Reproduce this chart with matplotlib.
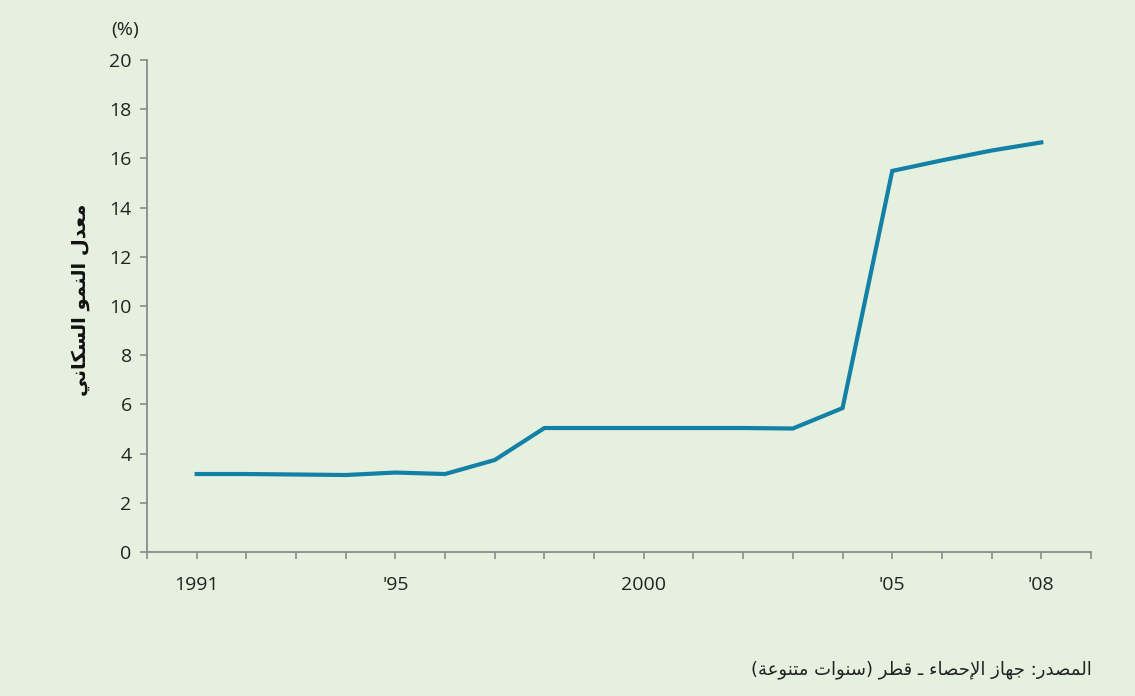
import matplotlib
matplotlib.use('Agg')
import matplotlib.pyplot as plt

# Population growth rate (%), 1991-2008
years = [1991, 1992, 1993, 1994, 1995, 1996, 1997, 1998, 1999,
         2000, 2001, 2002, 2003, 2004, 2005, 2006, 2007, 2008]
growth = [3.17, 3.17, 3.15, 3.13, 3.23, 3.17, 3.74, 5.04, 5.04,
          5.04, 5.04, 5.04, 5.02, 5.85, 15.49, 15.92, 16.32, 16.65]

tick_years = [1991, 1995, 2000, 2005, 2008]
tick_labels = ['1991', "'95", '2000', "'05", "'08"]

# Arabic text, written in presentation forms (logical order), reversed for display
YLABEL_AR = ('\uFEE3\uFECC\uFEAA\uFEDD' + ' ' +
             '\uFE8D\uFEDF\uFEE8\uFEE4\uFEEE' + ' ' +
             '\uFE8D\uFEDF\uFEB4\uFEDC\uFE8E\uFEE7\uFEF2')
SOURCE_AR = ('\uFE8D\uFEDF\uFEE4\uFEBC\uFEAA\uFEAD:' + ' ' +
             '\uFE9F\uFEEC\uFE8E\uFEAF' + ' ' +
             '\uFE8D\uFEF9\uFEA3\uFEBC\uFE8E\uFE80' + ' \u0640 ' +
             '\uFED7\uFEC4\uFEAE' + ' (' +
             '\uFEB3\uFEE8\uFEEE\uFE8D\uFE95' + ' ' +
             '\uFEE3\uFE98\uFEE8\uFEEE\uFECB\uFE94' + ')')


def visual(s):
    s = s[::-1]
    return s.translate(str.maketrans('()', ')('))


BG = '#e5f0df'
LINE = '#1380a5'
AXIS = '#8a8a8a'
TEXT = '#222222'
FONT = ['Open Sans', 'DejaVu Sans']

plt.rcParams['font.family'] = FONT

fig = plt.figure(figsize=(11.35, 6.96), dpi=100, facecolor=BG)
ax = fig.add_axes([0.1295, 0.2069, 0.8317, 0.7069])
ax.set_facecolor(BG)

ax.plot(years, growth, color=LINE, lw=3, solid_joinstyle='miter')

ax.set_xlim(1990, 2009)
ax.set_ylim(0, 20)
ax.set_yticks(range(0, 21, 2))
ax.set_xticks(range(1990, 2010), minor=True)
ax.set_xticks(tick_years)
ax.set_xticklabels(tick_labels)

for side in ('top', 'right'):
    ax.spines[side].set_visible(False)
for side in ('left', 'bottom'):
    ax.spines[side].set_color(AXIS)
    ax.spines[side].set_linewidth(1.3)

ax.tick_params(axis='y', direction='out', length=5, width=1.2, color=AXIS,
               pad=6, labelsize=14, labelcolor=TEXT)
ax.tick_params(axis='x', which='both', direction='out', length=5, width=1.2,
               color=AXIS, pad=12, labelsize=14, labelcolor=TEXT)

fig.text(125 / 1135, 1 - 30 / 696, '(%)', ha='center', va='center',
         fontsize=14, color=TEXT)
fig.text(80 / 1135, 1 - 300 / 696, visual(YLABEL_AR), rotation=90,
         ha='center', va='center', fontsize=14, fontweight='bold',
         color='#111111', family=['DejaVu Sans'])
fig.text(1092 / 1135, 1 - 670 / 696, visual(SOURCE_AR), ha='right',
         va='center', fontsize=13, color=TEXT, family=['DejaVu Sans'])

fig.savefig('out.png', dpi=100, facecolor=BG)
